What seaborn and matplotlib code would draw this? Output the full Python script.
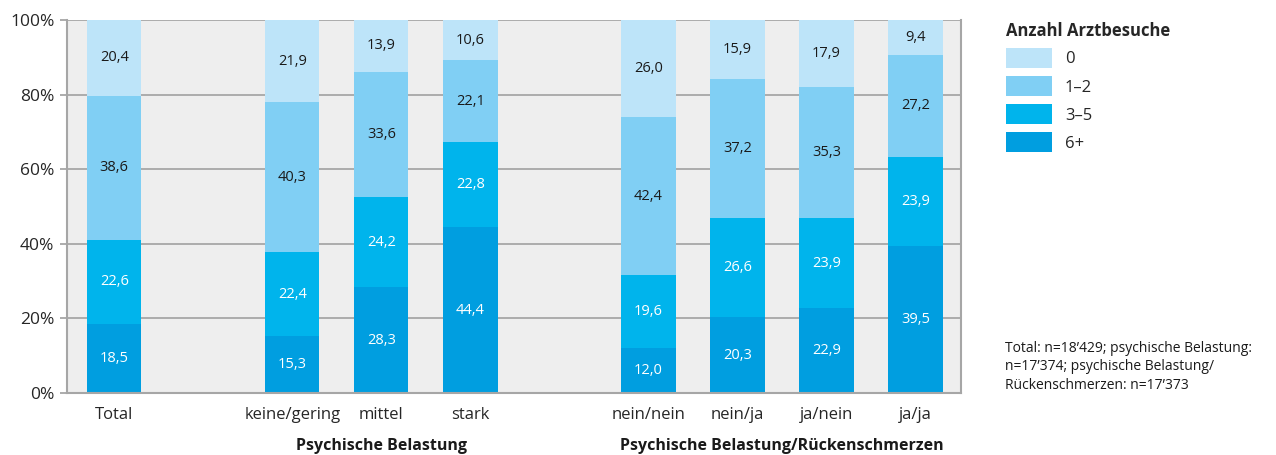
import numpy as np
import pandas as pd
import matplotlib
matplotlib.use("Agg")
import matplotlib.pyplot as plt
from matplotlib.patches import Patch
import seaborn as sns

# Categories (blank slots separate the groups)
categories = ["Total", "", "keine/gering", "mittel", "stark", " ",
              "nein/nein", "nein/ja", "ja/nein", "ja/ja"]
groups = ["Total", "keine/gering", "mittel", "stark",
          "nein/nein", "nein/ja", "ja/nein", "ja/ja"]

# Shares per number of doctor visits (%)
visits_6plus = [18.5, 15.3, 28.3, 44.4, 12.0, 20.3, 22.9, 39.5]
visits_3_5 = [22.6, 22.4, 24.2, 22.8, 19.6, 26.6, 23.9, 23.9]
visits_1_2 = [38.6, 40.3, 33.6, 22.1, 42.4, 37.2, 35.3, 27.2]
visits_0 = [20.4, 21.9, 13.9, 10.6, 26.0, 15.9, 17.9, 9.4]

series_names = ["6+", "3–5", "1–2", "0"]
series_values = [visits_6plus, visits_3_5, visits_1_2, visits_0]
colors = {"0": "#bde4f9", "1–2": "#80cff4", "3–5": "#00b4ec", "6+": "#009ee0"}
text_colors = {"0": "#1a1a1a", "1–2": "#1a1a1a", "3–5": "white", "6+": "white"}

rows = []
for name, vals in zip(series_names, series_values):
    for g, v in zip(groups, vals):
        rows.append({"Gruppe": g, "Kategorie": name, "Wert": v})
df = pd.DataFrame(rows)
df["Unten"] = df.groupby("Gruppe")["Wert"].cumsum() - df["Wert"]
df["Oben"] = df["Unten"] + df["Wert"]

sns.set_theme(style="white")
plt.rcParams["font.family"] = ["Open Sans", "DejaVu Sans"]

fig = plt.figure(figsize=(12.76, 4.55), dpi=100)
ax = fig.add_axes([67 / 1276, 1 - 393 / 455, (961 - 67) / 1276, (393 - 20) / 455])
ax.set_facecolor("#eeeeee")

# Stacked bars: draw cumulative tops from the highest layer downwards
for name in reversed(series_names):
    sub = df[df["Kategorie"] == name]
    sns.barplot(data=sub, x="Gruppe", y="Oben", order=categories,
                color=colors[name], width=0.61, saturation=1,
                edgecolor="none", linewidth=0, ax=ax, zorder=2)

# Value labels centred in each segment
pos = {c: i for i, c in enumerate(categories)}
for _, r in df.iterrows():
    ax.text(pos[r["Gruppe"]], r["Unten"] + r["Wert"] / 2,
            f"{r['Wert']:.1f}".replace(".", ","),
            ha="center", va="center", fontsize=10.5,
            color=text_colors[r["Kategorie"]], zorder=3)

ax.set_ylim(0, 100)
ax.set_xlim(-0.53, 9.51)
ax.set_yticks([0, 20, 40, 60, 80, 100])
ax.set_yticklabels(["0%", "20%", "40%", "60%", "80%", "100%"], fontsize=12.5)
ax.yaxis.grid(True, color="#a6a6a6", linewidth=1.3, zorder=1)
ax.set_axisbelow(True)
ax.tick_params(axis="y", which="major", direction="out", length=5,
               width=1.3, color="#a6a6a6", pad=4, left=True)
ax.tick_params(axis="x", length=0, pad=10, labelsize=12)
ax.set_xlabel("")
ax.set_ylabel("")
for side, sp in ax.spines.items():
    sp.set_visible(side != "top")
    sp.set_color("#a6a6a6")
    sp.set_linewidth(1.5)

# Group captions below the tick labels
ax.text(3, -14.2, "Psychische Belastung", ha="center", va="center",
        fontsize=11.5, fontweight="bold", transform=ax.transData,
        clip_on=False, color="#1a1a1a")
ax.text(7.5, -14.2, "Psychische Belastung/Rückenschmerzen", ha="center",
        va="center", fontsize=11.5, fontweight="bold", transform=ax.transData,
        clip_on=False, color="#1a1a1a")

# Legend
handles = [Patch(facecolor=colors[n], edgecolor="none") for n in ["0", "1–2", "3–5", "6+"]]
leg = fig.legend(handles, ["0", "1–2", "3–5", "6+"], title="Anzahl Arztbesuche",
                 loc="upper left", bbox_to_anchor=(999 / 1276, 1 - 15 / 455),
                 frameon=False, fontsize=12, title_fontsize=12,
                 handlelength=2.75, handleheight=1.45, handletextpad=0.8,
                 labelspacing=0.5, borderaxespad=0)
leg.get_title().set_fontweight("bold")
leg._legend_box.align = "left"

fig.text(1005 / 1276, 1 - 367 / 455,
         "Total: n=18’429; psychische Belastung:\nn=17’374; psychische Belastung/\nRückenschmerzen: n=17’373",
         ha="left", va="center", fontsize=10, color="#1a1a1a", linespacing=1.3)

fig.savefig("out.png", dpi=100, facecolor="white")
